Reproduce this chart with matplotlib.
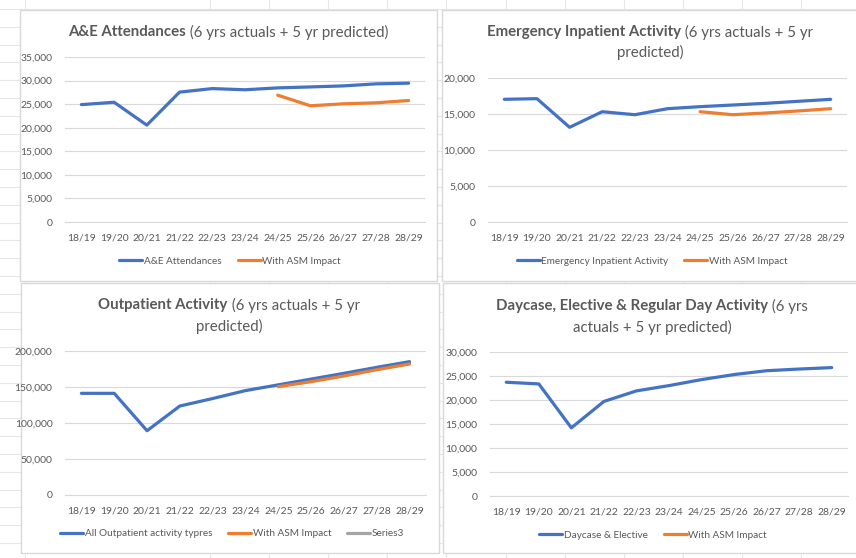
import numpy as np
import matplotlib
matplotlib.use('Agg')
import matplotlib.pyplot as plt
from matplotlib.patches import Rectangle
from matplotlib.ticker import FuncFormatter, MultipleLocator

# data
years = ['18/19', '19/20', '20/21', '21/22', '22/23', '23/24',
         '24/25', '25/26', '26/27', '27/28', '28/29']
forecast_years = years[6:]

ae_attendances = [24900, 25400, 20550, 27550, 28300, 28050, 28450, 28650, 28870, 29300, 29450]
ae_asm = [26900, 24650, 25070, 25280, 25770]

emergency_ip = [17040, 17130, 13150, 15320, 14900, 15740, 16020, 16250, 16480, 16760, 17040]
emergency_asm = [15320, 14900, 15140, 15420, 15740]

outpatient = [141200, 141200, 89300, 123600, 134000, 145000, 153000, 161000, 169000, 177300, 185200]
outpatient_asm = [150500, 157400, 165300, 174000, 182000]

daycase = [23700, 23350, 14200, 19700, 21900, 23000, 24250, 25300, 26100, 26450, 26750]

BLUE = '#4472C4'
ORANGE = '#ED7D31'
GREY = '#A5A5A5'
TXT = '#595959'
LINE = '#D9D9D9'

W, H = 856, 558
plt.rcParams['font.family'] = ['Lato', 'DejaVu Sans']

fig = plt.figure(figsize=(W / 100, H / 100), dpi=100)
fig.patch.set_facecolor('white')


def fbox(l, t, r, b):
    # pixel box (from top-left) -> figure fraction rect
    return [l / W, 1 - b / H, (r - l) / W, (b - t) / H]


# spreadsheet grid behind the chart objects
bg = fig.add_axes([0, 0, 1, 1], zorder=-5)
bg.set_xlim(0, W)
bg.set_ylim(H, 0)
bg.axis('off')
for yy in np.arange(9, H, 17.8):
    bg.axhline(yy, color='#E6E6E6', lw=0.8)
for xx in [25] + list(np.arange(210, W + 60, 59.1)):
    bg.axvline(xx, color='#E6E6E6', lw=0.8)

panels = [
    dict(border=(20, 10, 437, 281), axes=(65, 57, 425, 222), cx=228,
         title=[('A&E Attendances', ' (6 yrs actuals + 5 yr predicted)', 32)],
         ymax=35000, step=5000, leg_y=261, leg_x=230,
         series=[(years, ae_attendances, BLUE, 'A&E Attendances'),
                 (forecast_years, ae_asm, ORANGE, 'With ASM Impact')]),
    dict(border=(442, 10, 870, 281), axes=(488, 78, 847, 222), cx=650,
         title=[('Emergency Inpatient Activity', ' (6 yrs actuals + 5 yr', 32),
                ('', 'predicted)', 52)],
         ymax=20000, step=5000, leg_y=261, leg_x=652,
         series=[(years, emergency_ip, BLUE, 'Emergency Inpatient Activity'),
                 (forecast_years, emergency_asm, ORANGE, 'With ASM Impact')]),
    dict(border=(21, 283, 439, 553), axes=(65, 351, 426, 495), cx=229,
         title=[('Outpatient Activity', ' (6 yrs actuals + 5 yr', 305),
                ('', 'predicted)', 326)],
         ymax=200000, step=50000, leg_y=534, leg_x=232,
         series=[(years, outpatient, BLUE, 'All Outpatient activity typres'),
                 (forecast_years, outpatient_asm, ORANGE, 'With ASM Impact'),
                 ([], [], GREY, 'Series3')]),
    dict(border=(443, 283, 870, 553), axes=(490, 352, 848, 496), cx=652,
         title=[('Daycase, Elective & Regular Day Activity', ' (6 yrs', 306),
                ('', 'actuals + 5 yr predicted)', 327)],
         ymax=30000, step=5000, leg_y=535, leg_x=653,
         series=[(years, daycase, BLUE, 'Daycase & Elective'),
                 ([], [], ORANGE, 'With ASM Impact')]),
]

renderer = fig.canvas.get_renderer()

for p in panels:
    l, t, r, b = p['border']
    fig.patches.append(Rectangle((l / W, 1 - b / H), (r - l) / W, (b - t) / H,
                                 transform=fig.transFigure, facecolor='white',
                                 edgecolor=LINE, lw=1.0, zorder=-1))

    ax = fig.add_axes(fbox(*p['axes']), zorder=2)
    ax.set_facecolor('none')
    for xs, ys, c, lab in p['series']:
        ax.plot(xs, ys, color=c, lw=2.3, label=lab, solid_capstyle='round')
    ax.set_xlim(-0.5, len(years) - 0.5)
    ax.set_ylim(0, p['ymax'])
    ax.yaxis.set_major_locator(MultipleLocator(p['step']))
    ax.yaxis.set_major_formatter(FuncFormatter(lambda v, pos: f'{v:,.0f}'))
    ax.grid(axis='y', color=LINE, lw=0.8)
    ax.set_axisbelow(True)
    for s in ['top', 'right', 'left']:
        ax.spines[s].set_visible(False)
    ax.spines['bottom'].set_color(LINE)
    ax.spines['bottom'].set_linewidth(0.8)
    ax.tick_params(length=0, labelsize=7.5, labelcolor=TXT)
    ax.tick_params(axis='y', pad=9)
    ax.tick_params(axis='x', pad=8)

    leg = ax.legend(loc='center', bbox_to_anchor=(p['leg_x'] / W, 1 - p['leg_y'] / H),
                    bbox_transform=fig.transFigure, ncol=len(p['series']),
                    frameon=False, fontsize=7.2, handlelength=2.3,
                    handletextpad=0.15, columnspacing=1.6, borderpad=0)
    for txt in leg.get_texts():
        txt.set_color(TXT)

    # title: bold part followed by regular part, centred on the panel
    for bold, rest, ty in p['title']:
        yf = 1 - ty / H
        tb = fig.text(0, yf, bold, fontsize=10.8, fontweight='bold', color=TXT,
                      ha='left', va='center')
        tr = fig.text(0, yf, rest, fontsize=10.8, color=TXT, ha='left', va='center')
        wb = tb.get_window_extent(renderer).width if bold else 0
        wr = tr.get_window_extent(renderer).width
        x0 = p['cx'] - (wb + wr) / 2
        tb.set_x(x0 / W)
        tr.set_x((x0 + wb) / W)

fig.savefig('out.png', dpi=100)
